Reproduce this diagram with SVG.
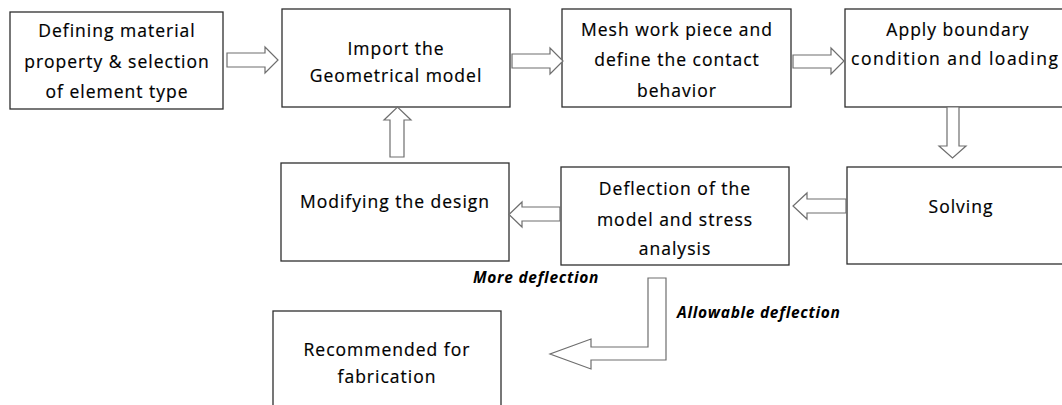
<svg xmlns="http://www.w3.org/2000/svg" width="1062" height="405" viewBox="0 0 1062 405">
<style>
.box{fill:#fff;stroke:#2e2e2e;stroke-width:1.3}
.t{font-family:"Open Sans","Liberation Sans",sans-serif;font-size:17.5px;letter-spacing:1px;fill:#000;text-anchor:middle;stroke:#000;stroke-width:0.2}
.arr{fill:#fff;stroke:#6e6e6e;stroke-width:1.2;stroke-linejoin:miter}
.lbl{font-family:"Open Sans","Liberation Sans",sans-serif;font-size:15.5px;letter-spacing:0.7px;font-weight:bold;font-style:italic;fill:#000}
</style>
<rect width="1062" height="405" fill="#fff"/>
<g id="n1"><rect class="box" x="10" y="12" width="213" height="97"/>
<text class="t" x="117" y="37">Defining material</text>
<text class="t" x="117" y="68">property &amp; selection</text>
<text class="t" x="117" y="98">of element type</text></g>
<g id="n2"><rect class="box" x="282" y="9" width="228" height="98"/>
<text class="t" x="396" y="55">Import the</text>
<text class="t" x="396" y="82">Geometrical model</text></g>
<g id="n3"><rect class="box" x="562" y="9" width="229" height="98"/>
<text class="t" x="677" y="36">Mesh work piece and</text>
<text class="t" x="677" y="66">define the contact</text>
<text class="t" x="677" y="97">behavior</text></g>
<g id="n4"><rect class="box" x="845" y="9" width="230" height="98"/>
<text class="t" x="958" y="36">Apply boundary</text>
<text class="t" x="955" y="65" textLength="208" lengthAdjust="spacing">condition and loading</text></g>
<g id="n5"><rect class="box" x="847" y="167" width="228" height="97"/>
<text class="t" x="961" y="213">Solving</text></g>
<g id="n6"><rect class="box" x="561" y="167" width="228" height="98"/>
<text class="t" x="675" y="195">Deflection of the</text>
<text class="t" x="675" y="226">model and stress</text>
<text class="t" x="675" y="255">analysis</text></g>
<g id="n7"><rect class="box" x="281" y="163" width="228" height="98"/>
<text class="t" x="395" y="208">Modifying the design</text></g>
<g id="n8"><rect class="box" x="273" y="311" width="228" height="110"/>
<text class="t" x="387" y="356">Recommended for</text>
<text class="t" x="387" y="383">fabrication</text></g>
<g id="connectors">
<path class="arr" d="M227,53 H265 V47 L278,60 L265,73 V67 H227 Z"/>
<path class="arr" d="M512,54 H550 V48 L563,61 L550,74 V68 H512 Z"/>
<path class="arr" d="M793,55 H831 V48 L844,61 L831,74 V68 H793 Z"/>
<path class="arr" d="M947,107 V146 H939 L952.5,158 L966,146 H959 V107 Z"/>
<path class="arr" d="M846,199 H807 V193 L793,206 L807,219 V213 H846 Z"/>
<path class="arr" d="M560,207 H522 V202 L509,214.5 L522,227 V221 H560 Z"/>
<path class="arr" d="M390,157 V120 H384 L397.5,107 L411,120 H404 V157 Z"/>
<path class="arr" d="M648,278 H666 V360 H591 V369 L550,354 L591,339 V347 H648 Z"/>
<text class="lbl" x="473" y="283">More deflection</text>
<text class="lbl" x="677" y="318">Allowable deflection</text>
</g>
</svg>
